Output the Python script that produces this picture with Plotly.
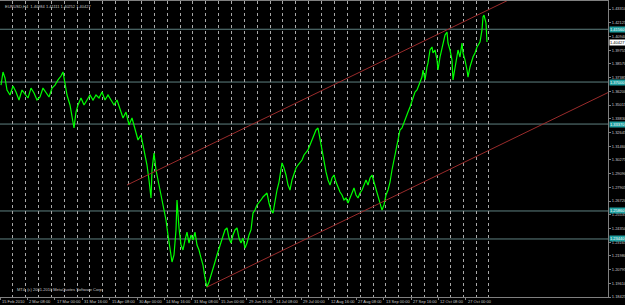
import plotly.graph_objects as go

# ---------------- data ----------------
bar_pos = [1, 3, 5, 7, 10, 13, 16, 19, 22, 25, 28, 31, 34, 37, 40, 43, 46, 49, 52, 55, 58, 61, 63, 65, 67, 70, 72, 74, 76, 78,
           81, 84, 87, 90, 93, 96, 99, 102, 105, 108, 111, 114, 117, 120, 123, 126, 129, 132, 135, 138, 141, 144, 147, 149, 151, 152, 154, 156, 158, 160,
           162, 164, 166, 168, 170, 172, 174, 176, 177, 179, 181, 183, 185, 187, 189, 191, 193, 195, 197, 199, 201, 203, 205, 207, 209, 211, 213, 215, 217, 219,
           221, 223, 225, 227, 229, 231, 233, 235, 237, 239, 241, 243, 245, 247, 249, 251, 253, 255, 257, 259, 261, 263, 265, 267, 269, 271, 273, 275, 277, 279,
           281, 282, 284, 286, 288, 290, 292, 294, 296, 298, 300, 302, 304, 306, 308, 310, 312, 314, 316, 318, 320, 322, 324, 326, 328, 330, 332, 334, 336, 338,
           340, 342, 344, 346, 348, 350, 352, 354, 356, 358, 360, 362, 364, 366, 368, 370, 372, 374, 376, 378, 380, 382, 384, 386, 388, 390, 392, 394, 396, 398,
           400, 402, 404, 406, 408, 410, 413, 415, 417, 419, 420, 422, 423, 425, 427, 428, 430, 432, 433, 435, 437, 438, 440, 442, 443, 445, 447, 448, 450, 452,
           453, 455, 457, 458, 460, 462, 463, 465, 467, 468, 470, 472, 473, 475, 477, 480, 482, 483, 484, 486, 487]
close = [1.3674, 1.3787, 1.3735, 1.3631, 1.3588, 1.3666, 1.3614, 1.3545, 1.3631, 1.3597, 1.3562, 1.3648, 1.3605, 1.3545, 1.3571, 1.3648, 1.3605, 1.3571, 1.3648, 1.3674,
         1.3718, 1.3752, 1.3787, 1.3674, 1.3588, 1.3502, 1.3389, 1.3303, 1.3441, 1.3502, 1.3562, 1.3502, 1.3545, 1.3588, 1.3545, 1.3588, 1.3562, 1.3614, 1.3545, 1.3588,
         1.3545, 1.3502, 1.3545, 1.3458, 1.3389, 1.3441, 1.3329, 1.3389, 1.3286, 1.3199, 1.3242, 1.3113, 1.2983, 1.2854, 1.2698, 1.2940, 1.3087, 1.2940, 1.2854, 1.2785,
         1.2698, 1.2594, 1.2508, 1.2378, 1.2249, 1.2145, 1.2206, 1.2422, 1.2681, 1.2439, 1.2292, 1.2249, 1.2335, 1.2404, 1.2309, 1.2378, 1.2335, 1.2404, 1.2292, 1.2249,
         1.2180, 1.2119, 1.2007, 1.1929, 1.1972, 1.2024, 1.2093, 1.2145, 1.2206, 1.2266, 1.2309, 1.2370, 1.2422, 1.2439, 1.2352, 1.2309, 1.2378, 1.2422, 1.2439, 1.2352,
         1.2309, 1.2352, 1.2266, 1.2309, 1.2378, 1.2422, 1.2568, 1.2594, 1.2638, 1.2655, 1.2681, 1.2707, 1.2724, 1.2741, 1.2655, 1.2594, 1.2568, 1.2681, 1.2767, 1.2836,
         1.2940, 1.3001, 1.2957, 1.2897, 1.2810, 1.2767, 1.2854, 1.2914, 1.2957, 1.2983, 1.3001, 1.3026, 1.3070, 1.3096, 1.3113, 1.3156, 1.3199, 1.3242, 1.3286, 1.3303,
         1.3199, 1.3113, 1.3026, 1.2923, 1.2854, 1.2810, 1.2871, 1.2897, 1.2836, 1.2785, 1.2750, 1.2724, 1.2681, 1.2698, 1.2655, 1.2698, 1.2750, 1.2785, 1.2724, 1.2698,
         1.2741, 1.2767, 1.2810, 1.2854, 1.2810, 1.2871, 1.2897, 1.2836, 1.2767, 1.2698, 1.2638, 1.2594, 1.2638, 1.2724, 1.2767, 1.2836, 1.2940, 1.3026, 1.3113, 1.3199,
         1.3286, 1.3303, 1.3355, 1.3389, 1.3441, 1.3484, 1.3571, 1.3614, 1.3631, 1.3674, 1.3692, 1.3743, 1.3804, 1.3718, 1.3830, 1.3865, 1.3977, 1.4003, 1.3951, 1.3977,
         1.3890, 1.3804, 1.3916, 1.3994, 1.4037, 1.4106, 1.4132, 1.4037, 1.3977, 1.3890, 1.3718, 1.3830, 1.3951, 1.3977, 1.3916, 1.4037, 1.3951, 1.3890, 1.3804, 1.3743,
         1.3830, 1.3890, 1.3916, 1.3951, 1.4003, 1.4046, 1.4150, 1.4262, 1.4279, 1.4210, 1.4046]

date_labels = ["15 Feb 2010", "2 Mar 08:00", "17 Mar 00:00", "31 Mar 16:00", "15 Apr 08:00", "30 Apr 00:00",
               "14 May 16:00", "31 May 08:00", "15 Jun 00:00", "29 Jun 16:00", "14 Jul 08:00", "29 Jul 00:00",
               "12 Aug 16:00", "27 Aug 08:00", "13 Sep 00:00", "27 Sep 16:00", "12 Oct 08:00", "27 Oct 00:00"]

price_ticks = [1.43310, 1.42125, 1.40940, 1.39755, 1.38570, 1.37385, 1.36200, 1.35015, 1.33830, 1.32645, 1.31460,
               1.30275, 1.29090, 1.27905, 1.26720, 1.25535, 1.24350, 1.23165, 1.21980, 1.20795, 1.19610, 1.18425]

hline_prices = [1.41560, 1.37000, 1.33370, 1.25860, 1.23440]

upper_x = [127, 520]
upper_p = [1.2810, 1.4457]
lower_x = [207, 608]
lower_p = [1.1929, 1.3609]

symbol = "EURUSD,H4"
ohlc = [1.40984, 1.41111, 1.40252, 1.40427]
last_price = 1.40427
copyright_text = "MT4, (c) 2001-2010 MetaQuotes Software Corp."

# ---------------- layout helpers ----------------
X_MIN, X_MAX = 0, 608
Y_MIN, Y_MAX = 1.18427, 1.44002
label_step = 27.4
label_pos = [i * label_step for i in range(len(date_labels))]
grid_pos = [12.7 + 12.87 * k for k in range(38)]

FONT = "Liberation Sans"
TXT = "#c8c8c8"
FRAME = "#808080"

fig = go.Figure()

fig.add_trace(go.Scatter(x=upper_x, y=upper_p, mode="lines", xaxis="x2",
                         line=dict(color="#9a2b2b", width=1), hoverinfo="skip", showlegend=False))
fig.add_trace(go.Scatter(x=lower_x, y=lower_p, mode="lines", xaxis="x2",
                         line=dict(color="#9a2b2b", width=1), hoverinfo="skip", showlegend=False))
fig.add_trace(go.Scatter(x=bar_pos, y=close, mode="lines",
                         line=dict(color="#00ff00", width=1.2), showlegend=False))

shapes = []
for p in hline_prices:
    shapes.append(dict(type="line", xref="paper", x0=0, x1=1, yref="y", y0=p, y1=p,
                       line=dict(color="#5f8080", width=1), layer="below"))

annotations = []
for p in hline_prices:
    annotations.append(dict(xref="paper", x=1, xanchor="left", yref="y", y=p, yanchor="middle",
                            text=f"{p:.5f}", showarrow=False, bgcolor="#20a0a0", borderpad=0,
                            font=dict(family=FONT, size=4, color="#ffffff"), xshift=1))
annotations.append(dict(xref="paper", x=1, xanchor="left", yref="y", y=last_price, yanchor="middle",
                        text=f"{last_price:.5f}", showarrow=False, bgcolor="#ffffff", borderpad=0,
                        font=dict(family=FONT, size=4, color="#000000"), xshift=1))
annotations.append(dict(xref="paper", x=0, xanchor="left", xshift=3, yref="paper", y=1, yanchor="top", yshift=-1,
                        text=symbol + "  " + " ".join(f"{v:.5f}" for v in ohlc), showarrow=False,
                        font=dict(family=FONT, size=4, color=TXT)))
annotations.append(dict(xref="x", x=15, xanchor="left", yref="paper", y=0, yanchor="bottom", yshift=3,
                        text=copyright_text, showarrow=False,
                        font=dict(family=FONT, size=4, color=TXT)))
# time-scale labels, left-aligned at their ticks just below the axis
for pos, lab in zip(label_pos, date_labels):
    annotations.append(dict(xref="x", x=pos, xanchor="left", xshift=1, yref="paper", y=0, yanchor="top",
                            yshift=-1, text=lab, showarrow=False, borderpad=0,
                            font=dict(family=FONT, size=4, color=TXT)))

fig.update_layout(
    width=625, height=305,
    margin=dict(l=0, r=17, t=1, b=8, pad=0),
    paper_bgcolor="#000000", plot_bgcolor="#000000",
    shapes=shapes, annotations=annotations,
    xaxis=dict(range=[X_MIN, X_MAX], showgrid=False, zeroline=False,
               tickmode="array", tickvals=label_pos, showticklabels=False,
               ticks="outside", ticklen=2, tickcolor=FRAME,
               showline=True, linecolor=FRAME, linewidth=1, mirror=True,
               automargin=False),
    xaxis2=dict(range=[X_MIN, X_MAX], overlaying="x", side="bottom",
                tickmode="array", tickvals=grid_pos, showticklabels=False, ticks="",
                showgrid=True, gridcolor="#a8a8a8", griddash="dot", gridwidth=1,
                zeroline=False, showline=False, automargin=False),
    yaxis=dict(range=[Y_MIN, Y_MAX], side="right", showgrid=False, zeroline=False,
               tickmode="array", tickvals=price_ticks, ticktext=[f"{v:.5f}" for v in price_ticks],
               ticks="outside", ticklen=2, tickcolor=FRAME,
               tickfont=dict(family=FONT, size=4, color=TXT),
               showline=True, linecolor=FRAME, linewidth=1, mirror=True,
               automargin=False),
)

fig.write_html("out.html")
